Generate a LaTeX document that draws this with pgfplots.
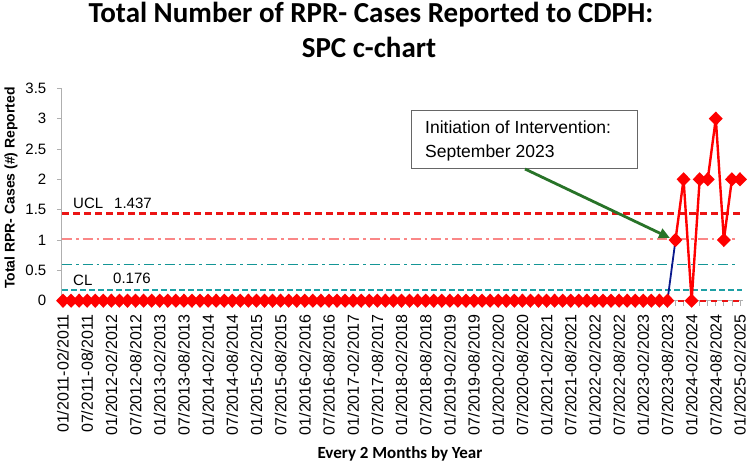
\documentclass[border=0pt]{standalone}
\usepackage{pgfplots}
\usepackage{pgfplotstable}
\pgfplotsset{compat=1.18}
\usetikzlibrary{arrows.meta}
\usepackage{fontspec}
\setmainfont{Liberation Sans}
\newfontfamily\calibri{Carlito}

\definecolor{spcred}{RGB}{255,0,0}
\definecolor{uclred}{RGB}{235,20,20}
\definecolor{sigpink}{RGB}{250,135,135}
\definecolor{sigteal}{RGB}{20,150,150}
\definecolor{clteal}{RGB}{30,160,165}
\definecolor{shiftblue}{RGB}{10,25,140}
\definecolor{arrowgreen}{RGB}{40,115,40}
\definecolor{axisgray}{RGB}{175,175,175}

% bimonthly counts, 01/2011-02/2011 (0) to 01/2025-02/2025 (84)
\pgfplotstableread{
idx cases
0 0
1 0
2 0
3 0
4 0
5 0
6 0
7 0
8 0
9 0
10 0
11 0
12 0
13 0
14 0
15 0
16 0
17 0
18 0
19 0
20 0
21 0
22 0
23 0
24 0
25 0
26 0
27 0
28 0
29 0
30 0
31 0
32 0
33 0
34 0
35 0
36 0
37 0
38 0
39 0
40 0
41 0
42 0
43 0
44 0
45 0
46 0
47 0
48 0
49 0
50 0
51 0
52 0
53 0
54 0
55 0
56 0
57 0
58 0
59 0
60 0
61 0
62 0
63 0
64 0
65 0
66 0
67 0
68 0
69 0
70 0
71 0
72 0
73 0
74 0
75 0
76 1
77 2
78 0
79 2
80 2
81 3
82 1
83 2
84 2
}\rprdata

\begin{document}
\begin{tikzpicture}
\useasboundingbox (0,0) rectangle (750bp,464bp);
\begin{axis}[
  at={(61.8bp,163.3bp)}, anchor=south west,
  scale only axis, width=681.4bp, height=212.4bp,
  xmin=-0.15, xmax=84.4, ymin=0, ymax=3.5,
  clip=false,
  axis lines*=left,
  axis line style={draw=axisgray, line width=0.8bp},
  tick style={draw=axisgray, line width=0.8bp},
  major tick length=5bp, minor tick length=5bp,
  tick align=outside,
  xtick={0,3,...,84},
  minor xtick={0,1,...,84},
  xticklabels={01/2011-02/2011,07/2011-08/2011,01/2012-02/2012,07/2012-08/2012,
    01/2013-02/2013,07/2013-08/2013,01/2014-02/2014,07/2014-08/2014,
    01/2015-02/2015,07/2015-08/2015,01/2016-02/2016,07/2016-08/2016,
    01/2017-02/2017,07/2017-08/2017,01/2018-02/2018,07/2018-08/2018,
    01/2019-02/2019,07/2019-08/2019,01/2020-02/2020,07/2020-08/2020,
    01/2021-02/2021,07/2021-08/2021,01/2022-02/2022,07/2022-08/2022,
    01/2023-02/2023,07/2023-08/2023,01/2024-02/2024,07/2024-08/2024,
    01/2025-02/2025},
  xticklabel style={yshift=-5bp, rotate=90, anchor=east,
    font=\fontsize{16bp}{16bp}\selectfont},
  ytick={0,0.5,1,1.5,2,2.5,3,3.5},
  yticklabel style={xshift=-7bp, font=\fontsize{15bp}{15bp}\selectfont},
  /pgf/number format/assume math mode=true,
]
% control limits
\addplot[uclred, line width=2.4bp, dash pattern=on 7bp off 4bp]
  coordinates {(-0.1,1.437) (84.2,1.437)};
\addplot[sigpink, line width=1.8bp, dash pattern=on 10bp off 4bp on 2.5bp off 4bp]
  coordinates {(-0.1,1.016) (83.6,1.016)};
\addplot[sigteal, line width=1.6bp, dash pattern=on 10bp off 4bp on 2.5bp off 4bp]
  coordinates {(-0.1,0.596) (83.6,0.596)};
\addplot[clteal, line width=2.2bp, dash pattern=on 6bp off 3bp]
  coordinates {(-0.1,0.176) (84.2,0.176)};
\addplot[uclred, line width=1.6bp, dash pattern=on 6bp off 5bp]
  coordinates {(-0.1,0) (84.2,0)};
% observed counts
\addplot[spcred, line width=2.4bp, mark=diamond*, mark size=5.4bp,
  mark options={solid, fill=spcred, draw=spcred, xscale=1.3},
  restrict x to domain=0:75] table[x=idx, y=cases] {\rprdata};
\addplot[shiftblue, line width=1.8bp, restrict x to domain=75:76]
  table[x=idx, y=cases] {\rprdata};
\addplot[spcred, line width=2.4bp, mark=diamond*, mark size=5.4bp,
  mark options={solid, fill=spcred, draw=spcred, xscale=1.3},
  restrict x to domain=76:84] table[x=idx, y=cases] {\rprdata};
\end{axis}

% limit labels
\node[anchor=base west, inner sep=0, font=\fontsize{15bp}{15bp}\selectfont] at (73bp,255bp) {UCL};
\node[anchor=base west, inner sep=0, font=\fontsize{15bp}{15bp}\selectfont] at (114bp,255bp) {1.437};
\node[anchor=base west, inner sep=0, font=\fontsize{15bp}{15bp}\selectfont] at (73bp,178bp) {CL};
\node[anchor=base west, inner sep=0, font=\fontsize{15bp}{15bp}\selectfont] at (113bp,180bp) {0.176};

% intervention note
\draw[draw=black!60, line width=0.8bp, fill=white] (411.7bp,295.7bp) rectangle (637.7bp,354bp);
\node[anchor=base west, inner sep=0, font=\fontsize{17.5bp}{20bp}\selectfont] at (425bp,330bp) {Initiation of Intervention:};
\node[anchor=base west, inner sep=0, font=\fontsize{17.5bp}{20bp}\selectfont] at (425bp,306bp) {September 2023};
\draw[arrowgreen, line width=2.8bp, -{Triangle[length=11bp,width=10bp]}] (525bp,295bp) -- (670bp,226bp);

% titles
\node[anchor=base, inner sep=0, font=\calibri\bfseries\fontsize{29bp}{34bp}\selectfont] at (371bp,441bp) {Total Number of RPR- Cases Reported to CDPH:};
\node[anchor=base, inner sep=0, font=\calibri\bfseries\fontsize{29bp}{34bp}\selectfont] at (369bp,406bp) {SPC c-chart};
\node[rotate=90, inner sep=0, font=\bfseries\fontsize{14bp}{14bp}\selectfont] at (11bp,276bp) {Total RPR- Cases (\#) Reported};
\node[anchor=base, inner sep=0, font=\calibri\bfseries\fontsize{17bp}{17bp}\selectfont] at (400bp,6bp) {Every 2 Months by Year};
\end{tikzpicture}
\end{document}
